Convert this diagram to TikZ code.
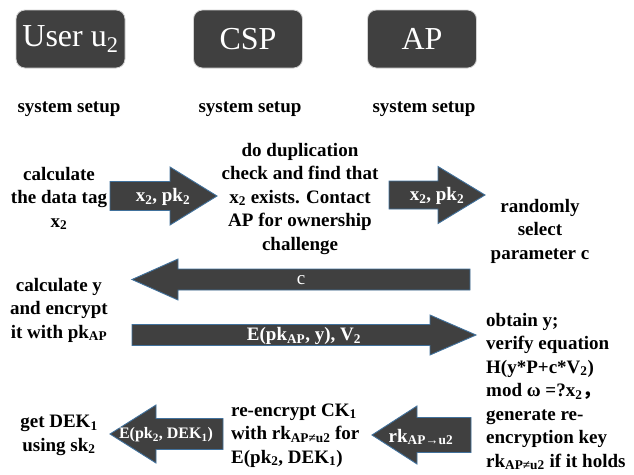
\documentclass[tikz,border=0pt]{standalone}
\usepackage{fontspec}
\setmainfont{Liberation Serif}
\newfontfamily\cjk{Noto Sans CJK SC}
\newcommand\lo[1]{\textsubscript{#1}}
% block arrow: tail x, tip x, centre y, shaft half height, head half height, head base x
\newcommand\blockarrow[6]{%
  \draw[barrow] (#1,#3-#4) -- (#6,#3-#4) -- (#6,#3-#5) -- (#2,#3)
    -- (#6,#3+#5) -- (#6,#3+#4) -- (#1,#3+#4) -- cycle;}
\definecolor{boxgray}{HTML}{404040}
\definecolor{edgeblue}{HTML}{41719C}
\tikzset{
  party/.style={draw=gray!35, line width=0.8pt, fill=boxgray, rounded corners=9pt,
    minimum width=109pt, minimum height=58pt, inner sep=0pt, text=white,
    font=\fontsize{32}{36}\selectfont},
  barrow/.style={draw=edgeblue, line width=0.9pt, fill=boxgray},
  body/.style={inner sep=0pt, font=\fontsize{19}{23.5}\selectfont\bfseries},
  lbl/.style={inner sep=0pt, text=white, font=\fontsize{19}{23}\selectfont\bfseries},
}
\begin{document}
\begin{tikzpicture}[x=1pt, y=-1pt]
\useasboundingbox (0,0) rectangle (634,474);

% parties
\node[party] (user) at (70.5,39) {User u\lo2};
\node[party] (csp) at (248,39) {CSP};
\node[party] (ap) at (422,39) {AP};

\node[body, anchor=base] (su) at (69,112) {system setup};
\node[body, anchor=base] (sc) at (250,112) {system setup};
\node[body, anchor=base] (sa) at (424,112) {system setup};

% step texts (anchored at the baseline of their last line)
\node[body, align=center, anchor=base] (u1) at (59,227) {calculate\\the data tag\\x\lo2};
\node[body, align=center, anchor=base] (c1) at (300,250) {do duplication\\check and find that\\x\lo2 exists. Contact\\AP for ownership\\challenge};
\node[body, align=center, anchor=base] (a1) at (540,259) {randomly\\select\\parameter c};
\node[body, align=center, anchor=base] (u2) at (59,338) {calculate y\\and encrypt\\it with pk\lo{AP}};
\node[body, align=left, anchor=base west] (a2) at (486,467) {obtain y;\\verify equation\\H(y*P+c*V\lo2)\\mod ω =?x\lo2{\cjk ，}\\generate re-\\encryption key\\rk\lo{AP≠u2} if it holds};
\node[body, align=left, anchor=base west] (c2) at (231,463) {re-encrypt CK\lo1\\with rk\lo{AP≠u2} for\\E(pk\lo2, DEK\lo1)};
\node[body, align=center, anchor=base] (u3) at (59,451) {get DEK\lo1\\using sk\lo2};

% messages
\blockarrow{110}{217}{196}{14.5}{29}{170}
\node[lbl] (m1) at (163,197) {x\lo2, pk\lo2};
\blockarrow{389}{485}{195}{14}{28.5}{438}
\node[lbl] (m2) at (437,196) {x\lo2, pk\lo2};
\blockarrow{470}{132}{279.5}{10.5}{20.5}{178}
\node[lbl, font=\fontsize{19}{23}\selectfont] (m3) at (301,280) {c};
\blockarrow{132}{476}{335}{10.5}{20}{430}
\node[lbl] (m4) at (304,336) {E(pk\lo{AP}, y), V\lo2};
\blockarrow{471}{372}{435}{17.5}{29}{417}
\node[lbl] (m5) at (421,437) {rk\lo{AP→u2}};
\blockarrow{223}{110}{434}{15.5}{29}{156}
\node[lbl, font=\fontsize{16}{20}\selectfont\bfseries] (m6) at (166,435) {E(pk\lo2, DEK\lo1)};
\end{tikzpicture}
\end{document}
